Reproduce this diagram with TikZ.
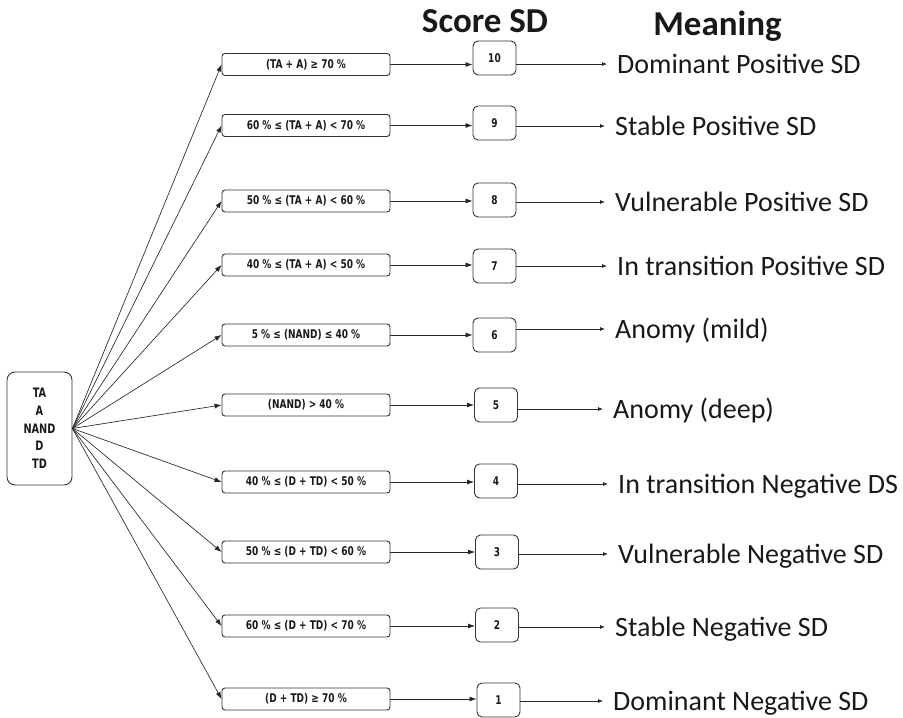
\documentclass[tikz,border=0pt]{standalone}
\usepackage{fontspec}
\setmainfont{Carlito}
\newfontfamily\boxfont{DejaVu Sans}[FakeStretch=0.75]
\usetikzlibrary{arrows.meta}
\begin{document}
\begin{tikzpicture}[x=1pt,y=-1pt,
  boxtext/.style={font=\boxfont\bfseries\fontsize{12}{13}\selectfont, text=black!90},
  cond/.style={draw=black!80, line width=0.9pt, rounded corners=3pt, minimum width=168pt, minimum height=22pt, inner sep=0pt, boxtext},
  score/.style={draw=black!80, line width=0.9pt, rounded corners=5pt, minimum width=43pt, minimum height=34pt, inner sep=0pt, boxtext},
  meaning/.style={anchor=west, inner ysep=0pt, inner xsep=10pt, font=\fontsize{28}{32}\selectfont, text height=18pt, text depth=0pt, text=black!90},
  title/.style={anchor=base, inner sep=0pt, font=\bfseries\fontsize{35}{40}\selectfont, text=black!90},
  fan/.style={draw=black!85, line width=0.65pt, -{Latex[length=7pt,width=5pt]}},
  harrow/.style={draw=black!85, line width=0.75pt, -{Latex[length=7pt,width=5pt]}},
  marrow/.style={draw=black!85, line width=0.75pt, -{Latex[length=5pt,width=4pt]}}
]
\useasboundingbox (0,0) rectangle (903,718);
\node[draw=black!80, line width=0.9pt, rounded corners=8pt, minimum width=65pt, minimum height=113pt, align=center, inner sep=0pt, text=black!90, font=\boxfont\bfseries\fontsize{13}{17.75}\selectfont] (L) at (39.5,428.5) {TA\\A\\NAND\\D\\TD};
\node[title] (t1) at (485,32) {Score SD};
\node[title] (t2) at (717.5,35) {Meaning};
\foreach \n/\ct/\cy/\sx/\sy/\mt/\mx/\my in {
10/{(TA + A) ≥ 70 \%}/64.5/494.5/58/{Dominant Positive SD}/617/64,
9/{60 \% ≤ (TA + A) < 70 \%}/125.5/494.5/123/{Stable Positive SD}/615/126,
8/{50 \% ≤ (TA + A) < 60 \%}/201/494.5/200/{Vulnerable Positive SD}/615/202,
7/{40 \% ≤ (TA + A) < 50 \%}/265/494.5/266/{In transition Positive SD}/617/266,
6/{5 \% ≤ (NAND) ≤ 40 \%}/335/494.5/335/{Anomy (mild)}/615/329,
5/{(NAND) > 40 \%}/405/496/405/{Anomy (deep)}/613/409,
4/{40 \% ≤ (D + TD) < 50 \%}/482/496/481/{In transition Negative DS}/618/484,
3/{50 \% ≤ (D + TD) < 60 \%}/552/497/552/{Vulnerable Negative SD}/618/554,
2/{60 \% ≤ (D + TD) < 70 \%}/626/497/625/{Stable Negative SD}/615/627,
1/{(D + TD) ≥ 70 \%}/699/498.5/700/{Dominant Negative SD}/613/701}{
  \node[cond] (c\n) at (306,\cy) {\ct};
  \node[score] (s\n) at (\sx,\sy) {\n};
  \node[meaning] (m\n) at (\mx-10,\my) {\mt};
  \draw[fan] (L.east) -- (c\n.west);
  \draw[harrow] (c\n.east) -- (c\n.east -| s\n.west);
  \draw[marrow] (m\n.west -| s\n.east) -- (m\n.west);
}
\end{tikzpicture}
\end{document}
